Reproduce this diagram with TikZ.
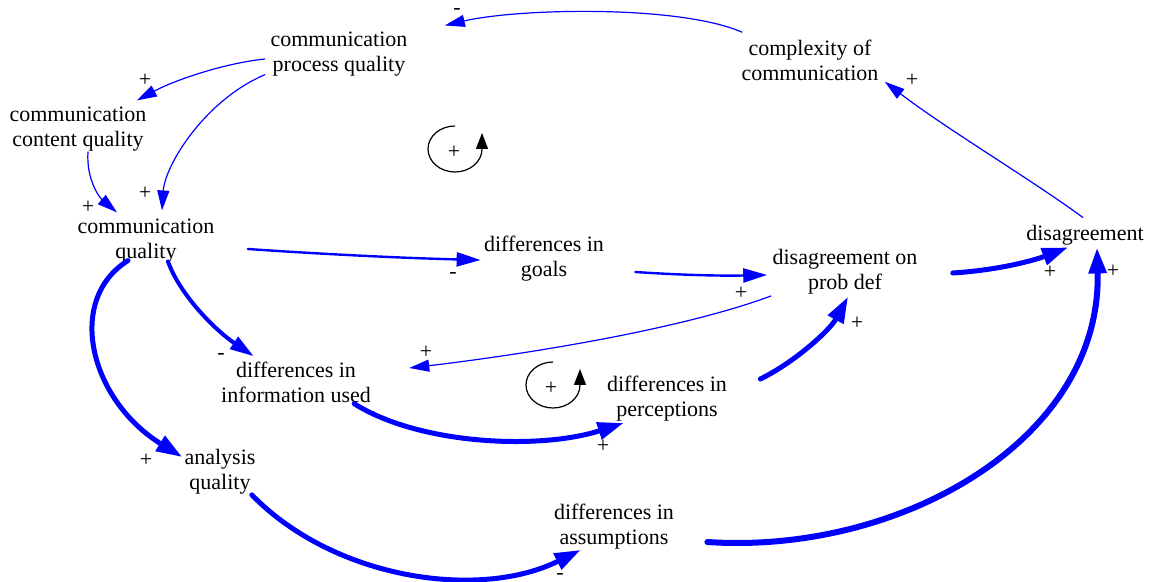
\documentclass[tikz,border=0pt]{standalone}
\usepackage{fontspec}
\setmainfont{Liberation Serif}
\usetikzlibrary{arrows.meta,calc}

\tikzset{
  var/.style={align=center, inner sep=2pt, font=\fontsize{11}{12.5}\selectfont},
  sign/.style={inner sep=0pt, font=\fontsize{11}{12}\selectfont},
  link/.style={blue, line width=0.6pt, -{Triangle[length=10pt,width=6pt]}},
  medlink/.style={link, line width=1.2pt, line cap=round, -{Triangle[length=12pt,width=7pt]}},
  thicklink/.style={link, line width=2.5pt, line cap=round, -{Triangle[length=13pt,width=8.5pt]}},
  loopline/.style={black, line width=0.6pt, -{Triangle[length=8pt,width=6pt]}}
}

\begin{document}
\begin{tikzpicture}[x=0.5pt,y=-0.5pt]
  \useasboundingbox (0,0) rectangle (1152,582);

  % variables
  \node[var] (cpq) at (339,54) {communication\\process quality};
  \node[var] (ccq) at (78,129) {communication\\content quality};
  \node[var] (cq) at (146,241) {communication\\quality};
  \node[var] (comp) at (810,60) {complexity of\\communication};
  \node[var] (dig) at (544,259) {differences in\\goals};
  \node[var] (dpd) at (845,272) {disagreement on\\prob def};
  \node[var] (dis) at (1085,235) {disagreement};
  \node[var] (diu) at (296,382) {differences in\\information used};
  \node[var] (dp) at (667,399) {differences in\\perceptions};
  \node[var] (aq) at (220,472) {analysis\\quality};
  \node[var] (da) at (614,527) {differences in\\assumptions};

  % links
  \draw[link] ($(comp.north west)+(5,-3)$) .. controls (680,5) and (520,8) .. ($(cpq.north east)+(33,-2)$);
  \draw[link] ($(cpq.west)+(-1,5)$) .. controls (225,63) and (175,80) .. ($(ccq.north east)+(-14,-2)$);
  \draw[link] ($(cpq.south west)+(-1,-6)$) .. controls (205,100) and (165,165) .. ($(cq.north)+(16,-4)$);
  \draw[link] ($(ccq.south)+(10,-4)$) .. controls (86,180) and (100,198) .. ($(cq.north)+(-29,-2)$);
  \draw[link] ($(dis.north)+(-2,-3)$) .. controls (1035,182) and (945,128) .. ($(comp.south east)+(2,-3)$);
  \draw[medlink] ($(cq.east)+(29,8)$) .. controls (320,254) and (400,258) .. ($(dig.west)+(1,1)$);
  \draw[medlink] ($(dig.east)+(27,13)$) .. controls (680,275) and (720,276) .. ($(dpd.west)+(-1,3)$);
  \draw[thicklink] ($(dpd.east)+(31,1)$) .. controls (1000,270) and (1035,260) .. ($(dis.south)+(-17,-2)$);
  \draw[link] ($(dpd.south west)+(3,-3)$) .. controls (680,330) and (520,355) .. ($(diu.east)+(34,-14)$);
  \draw[medlink, line width=2pt] ($(cq.south)+(22,-6)$) .. controls (180,295) and (215,330) .. ($(diu.north west)+(37,-1)$);
  \draw[thicklink] ($(diu.south east)+(-21,-3)$) .. controls (420,445) and (540,450) .. ($(dp.south west)+(21,-3)$);
  \draw[thicklink] ($(dp.north east)+(29,7)$) .. controls (795,362) and (830,330) .. ($(dpd.south)+(3,-2)$);
  \draw[thicklink] ($(cq.south)+(-18,-7)$) .. controls (65,300) and (90,400) .. ($(aq.west)+(2,-15)$);
  \draw[thicklink] ($(aq.south east)+(-8,-4)$) .. controls (335,580) and (480,600) .. ($(da.south west)+(31,-4)$);
  \draw[thicklink, line width=3pt] ($(da.east)+(29,15)$) .. controls (900,555) and (1102,440) .. ($(dis.south)+(12,-2)$);

  % polarities
  \node[sign] (s1) at (457,12) {-};
  \node[sign] (s2) at (145,80) {+};
  \node[sign] (s3) at (145,193) {+};
  \node[sign] (s4) at (88,207) {+};
  \node[sign] (s5) at (912,80) {+};
  \node[sign] (s6) at (453,276) {-};
  \node[sign] (s7) at (741,293) {+};
  \node[sign] (s8) at (1050,272) {+};
  \node[sign] (s9) at (426,352) {+};
  \node[sign] (s10) at (221,356) {-};
  \node[sign] (s11) at (603,446) {+};
  \node[sign] (s12) at (857,323) {+};
  \node[sign] (s13) at (146,460) {+};
  \node[sign] (s14) at (560,576) {-};
  \node[sign] (s15) at (1113,271) {+};

  % loop markers
  \draw[loopline] (455,126) arc[start angle=-90, end angle=-360, x radius=27, y radius=23] -- ++(0,-16);
  \node[sign] (loopa) at (454,152) {+};
  \draw[loopline] (553,362) arc[start angle=-90, end angle=-360, x radius=27, y radius=23] -- ++(0,-16);
  \node[sign] (loopb) at (551,388) {+};
\end{tikzpicture}
\end{document}
